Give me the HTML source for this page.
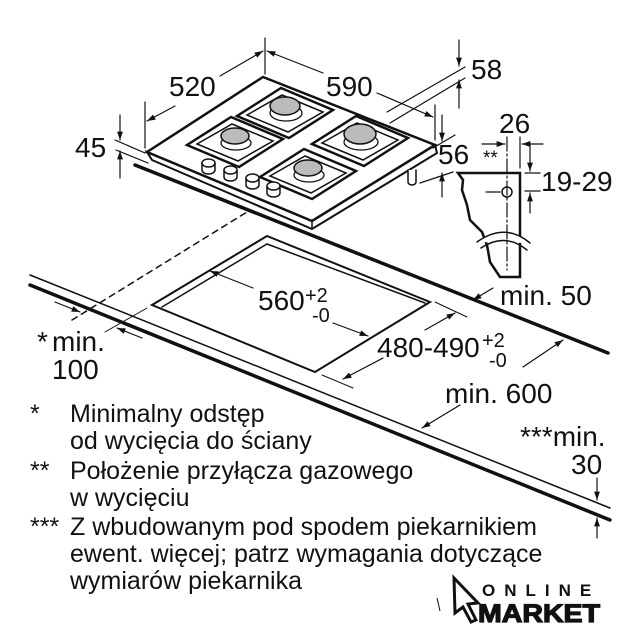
<!DOCTYPE html>
<html><head><meta charset="utf-8"><style>
html,body{margin:0;padding:0;background:#fff;}
svg{display:block;}
text{font-family:"Liberation Sans",Arial,sans-serif;fill:#111;}
</style></head><body>
<svg width="640" height="640" viewBox="0 0 640 640" xmlns="http://www.w3.org/2000/svg">
<defs>
<marker id="a" viewBox="0 0 10 10" refX="10" refY="5" markerWidth="7" markerHeight="7" orient="auto-start-reverse"><path d="M0,1.5 L10,5 L0,8.5 z" fill="#111"/></marker>
</defs>
<g stroke="#111" fill="none" stroke-linecap="round">
<!-- countertop -->
<line x1="30" y1="275" x2="610" y2="508" stroke-width="1.5"/>
<line x1="30" y1="285" x2="610" y2="520" stroke-width="3.5"/>
<line x1="135" y1="165" x2="608" y2="353" stroke-width="3.5"/>
<!-- dashed -->
<line x1="72" y1="320" x2="247" y2="212" stroke-width="1.5" stroke-dasharray="6,5"/>
<!-- cutout -->
<path d="M267,236 L430,302 L315,372 L152,305 Z" stroke-width="2"/>
<path d="M162,307 L267,244 L425,303" stroke-width="1.5"/>
<!-- min 100 -->
<line x1="105" y1="332" x2="147" y2="308" stroke-width="1"/>
<line x1="55" y1="302" x2="80" y2="312" marker-end="url(#a)" stroke-width="1.2"/>
<line x1="142" y1="338" x2="117" y2="328" marker-end="url(#a)" stroke-width="1.2"/>
<!-- 560 -->
<line x1="253" y1="288" x2="210" y2="271" marker-end="url(#a)" stroke-width="1.2"/>
<line x1="333" y1="323" x2="368" y2="336" marker-end="url(#a)" stroke-width="1.2"/>
<!-- 480 -->
<line x1="435" y1="302" x2="467" y2="317" stroke-width="1"/>
<line x1="322" y1="375" x2="353" y2="388" stroke-width="1"/>
<line x1="425" y1="330" x2="455" y2="313" marker-end="url(#a)" stroke-width="1.2"/>
<line x1="383" y1="358" x2="343" y2="379" marker-end="url(#a)" stroke-width="1.2"/>
<!-- min 50 -->
<line x1="493" y1="288" x2="473" y2="300" marker-end="url(#a)" stroke-width="1.2"/>
<!-- min 600 -->
<line x1="523" y1="367" x2="563" y2="340" marker-end="url(#a)" stroke-width="1.2"/>
<line x1="460" y1="405" x2="422" y2="428" marker-end="url(#a)" stroke-width="1.2"/>
<!-- min 30 -->
<line x1="597" y1="478" x2="597" y2="500" marker-end="url(#a)" stroke-width="1.2"/>
<line x1="597" y1="538" x2="597" y2="518" marker-end="url(#a)" stroke-width="1.2"/>

<!-- hob -->
<path d="M147,152 L152,160 L312,229 L437,153 L435,145 L312,221 Z" fill="#fff" stroke-width="2"/>
<path d="M147,152 L263,77 L435,145 L312,221 Z" fill="#fff" stroke-width="2.5"/>
<line x1="312" y1="221" x2="312" y2="229" stroke-width="1.5"/>
<!-- grates: u=(26,11) v=(22,-14) -->
<g stroke-width="2.5" fill="#fff">
<path d="M281,88 L333,110 L289,138 L237,116 Z"/>
<path d="M231,117 L283,139 L239,167 L187,145 Z"/>
<path d="M356,116 L408,138 L364,166 L312,144 Z"/>
<path d="M304,149 L356,171 L312,199 L260,177 Z"/>
</g>
<g stroke-width="1.5" fill="none">
<path d="M282,95 L323,112 L288,132 L247,115 Z"/>
<path d="M232,124 L273,141 L238,161 L197,144 Z"/>
<path d="M357,123 L398,140 L363,160 L322,143 Z"/>
<path d="M305,156 L346,173 L311,193 L270,176 Z"/>
</g>
<g stroke-width="1.3" fill="#fff">
<ellipse cx="286" cy="113" rx="16" ry="8"/>
<ellipse cx="236" cy="143" rx="15" ry="7"/>
<ellipse cx="361" cy="142" rx="17" ry="8"/>
<ellipse cx="309" cy="175" rx="15" ry="7"/>
</g>
<g fill="#bbb" stroke-width="1.5">
<ellipse cx="285" cy="106" rx="15" ry="9"/>
<ellipse cx="235" cy="136" rx="14" ry="8"/>
<ellipse cx="360" cy="134" rx="16" ry="10"/>
<ellipse cx="308" cy="168" rx="14" ry="8"/>
</g>
<!-- knobs -->
<g fill="#fff" stroke-width="1.5">
<path d="M202,163 v7 a6.5,4 0 0 0 13,0 v-7"/><ellipse cx="208.5" cy="163" rx="6.5" ry="4"/>
<path d="M224,170 v7 a6.5,4 0 0 0 13,0 v-7"/><ellipse cx="230.5" cy="170" rx="6.5" ry="4"/>
<path d="M246,178 v7 a6.5,4 0 0 0 13,0 v-7"/><ellipse cx="252.5" cy="178" rx="6.5" ry="4"/>
<path d="M267,186 v7 a6.5,4 0 0 0 13,0 v-7"/><ellipse cx="273.5" cy="186" rx="6.5" ry="4"/>
<path d="M408,170 v12 a4,3 0 0 0 8,0 v-12"/>
</g>
<!-- 520 / 590 -->
<line x1="145" y1="102" x2="145" y2="148" stroke-width="1.2"/>
<line x1="265" y1="38" x2="265" y2="74" stroke-width="1.2"/>
<line x1="435" y1="105" x2="435" y2="140" stroke-width="1.2"/>
<line x1="175" y1="106" x2="147" y2="121" marker-end="url(#a)" stroke-width="1.2"/>
<line x1="220" y1="76" x2="263" y2="51" marker-end="url(#a)" stroke-width="1.2"/>
<line x1="323" y1="73" x2="267" y2="51" marker-end="url(#a)" stroke-width="1.2"/>
<line x1="377" y1="93" x2="433" y2="117" marker-end="url(#a)" stroke-width="1.2"/>
<!-- 45 -->
<line x1="115" y1="140" x2="145" y2="153" stroke-width="1.2"/>
<line x1="116" y1="150" x2="148" y2="163" stroke-width="1.2"/>
<line x1="120" y1="115" x2="120" y2="140" marker-end="url(#a)" stroke-width="1.2"/>
<line x1="120" y1="178" x2="120" y2="151" marker-end="url(#a)" stroke-width="1.2"/>
<!-- 58 -->
<line x1="387" y1="112" x2="465" y2="67" stroke-width="1.2"/>
<line x1="390" y1="123" x2="465" y2="78" stroke-width="1.2"/>
<line x1="459" y1="40" x2="459" y2="66" marker-end="url(#a)" stroke-width="1.2"/>
<line x1="459" y1="108" x2="459" y2="80" marker-end="url(#a)" stroke-width="1.2"/>
<!-- 56 -->
<line x1="433" y1="148" x2="455" y2="135" stroke-width="1.2"/>
<line x1="420" y1="183" x2="453" y2="172" stroke-width="1.2"/>
<line x1="442" y1="115" x2="442" y2="141" marker-end="url(#a)" stroke-width="1.2"/>
<line x1="442" y1="197" x2="442" y2="173" marker-end="url(#a)" stroke-width="1.2"/>
<!-- bracket -->
<path d="M458,173 L520,173 L520,277 L500,277 L490,262 L487,245 L482,232 L470,220 L467,205 L462,190 L463,180 Z" fill="#fff" stroke-width="2.5"/>
<path d="M477,242 Q505,222 530,243" stroke-width="1.5" fill="#fff"/>
<path d="M481,248 Q505,232 527,250" stroke-width="1.5"/>
<circle cx="507" cy="192" r="5" stroke-width="1.5" fill="#fff"/>
<line x1="507" y1="137" x2="507" y2="270" stroke-width="1.2" stroke-dasharray="14,3,2,3"/>
<line x1="520" y1="137" x2="520" y2="168" stroke-width="1.2"/>
<line x1="482" y1="144" x2="505" y2="144" marker-end="url(#a)" stroke-width="1.2"/>
<line x1="543" y1="144" x2="522" y2="144" marker-end="url(#a)" stroke-width="1.2"/>
<line x1="525" y1="173" x2="540" y2="173" stroke-width="1.2"/>
<line x1="525" y1="191" x2="540" y2="191" stroke-width="1.2"/>
<line x1="530" y1="145" x2="530" y2="171" marker-end="url(#a)" stroke-width="1.2"/>
<line x1="530" y1="213" x2="530" y2="193" marker-end="url(#a)" stroke-width="1.2"/>
<line x1="486" y1="192" x2="500" y2="192" stroke-width="1.2"/>
</g>
<!-- labels -->
<g font-size="28">
<text x="169" y="96">520</text>
<text x="326" y="96">590</text>
<text x="75" y="157">45</text>
<text x="471" y="79">58</text>
<text x="438" y="164">56</text>
<text x="499" y="133">26</text>
<text x="483" y="164" font-size="19">**</text>
<text x="541" y="191">19-29</text>
<text x="258" y="310">560</text>
<text x="305" y="302" font-size="20">+2</text>
<text x="312" y="322" font-size="20">-0</text>
<text x="377" y="357">480-490</text>
<text x="482" y="347" font-size="20">+2</text>
<text x="489" y="367" font-size="20">-0</text>
<text x="500" y="305">min. 50</text>
<text x="37" y="351">*</text>
<text x="52" y="351">min.</text>
<text x="52" y="379">100</text>
<text x="445" y="403">min. 600</text>
<text x="520" y="446">***min.</text>
<text x="571" y="474">30</text>
</g>
<g font-size="25">
<text x="30" y="422">*</text>
<text x="70" y="422">Minimalny odstęp</text>
<text x="70" y="449">od wycięcia do ściany</text>
<text x="30" y="479">**</text>
<text x="70" y="479">Położenie przyłącza gazowego</text>
<text x="70" y="506">w wycięciu</text>
<text x="30" y="535">***</text>
<text x="70" y="535">Z wbudowanym pod spodem piekarnikiem</text>
<text x="70" y="562">ewent. więcej; patrz wymagania dotyczące</text>
<text x="70" y="589">wymiarów piekarnika</text>
</g>
<!-- logo -->
<path d="M454,578 L478,603 L468,604 L476,620 L471,622 L463,607 L455,613 Z" fill="#fff" stroke="#111" stroke-width="3"/>
<line x1="437" y1="598" x2="440" y2="611" stroke="#111" stroke-width="1"/>
<text x="482" y="596" font-size="17" font-weight="bold" letter-spacing="9">ONLINE</text>
<text x="478" y="622" font-size="25" font-weight="bold" style="stroke:#111;stroke-width:1.2" textLength="122" lengthAdjust="spacingAndGlyphs">MARKET</text>
</svg>
</body></html>
